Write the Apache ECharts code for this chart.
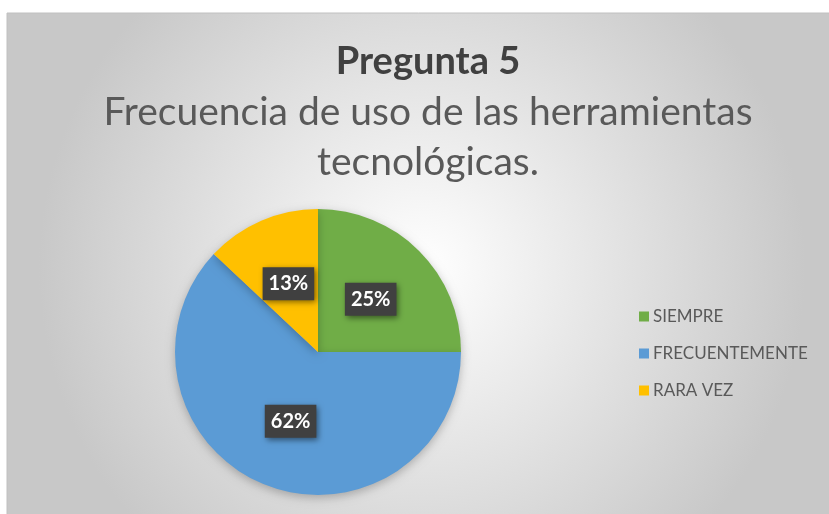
<!DOCTYPE html>
<html><head><meta charset="utf-8">
<script src="https://cdn.jsdelivr.net/npm/echarts@6/dist/echarts.min.js"></script>
<style>html,body{margin:0;padding:0;background:#fff}#c{width:829px;height:514px}</style>
</head><body><div id="c"></div>
<script>
const categories = ['SIEMPRE', 'FRECUENTEMENTE', 'RARA VEZ'];
const values = [25, 62, 13];
const colors = ['#70AD47', '#5B9BD5', '#FFC000'];
const titleText = 'Pregunta 5';
const subtitleText = 'Frecuencia de uso de las herramientas\ntecnológicas.';

const chart = echarts.init(document.getElementById('c'));
chart.setOption({
  animation: false,
  graphic: [{
    type: 'rect', z: -10, silent: true,
    shape: {x: 7, y: 13, width: 830, height: 510},
    style: {
      fill: {type: 'radial', x: 0.5, y: 0.5, r: 0.75, colorStops: [
        {offset: 0, color: '#ffffff'}, {offset: 1, color: '#c8c8c8'}]},
      stroke: '#c0c0c0', lineWidth: 1
    }
  }],
  title: {
    text: titleText, subtext: subtitleText, left: 423, textAlign: 'center', top: 38, itemGap: 6,
    textStyle: {fontFamily: 'Lato', fontWeight: 'bold', fontSize: 38, color: '#404040'},
    subtextStyle: {fontFamily: 'Lato', fontSize: 39, color: '#595959', lineHeight: 50}
  },
  legend: {
    orient: 'vertical', left: 634, top: 303, itemWidth: 10, itemHeight: 10, itemGap: 20,
    icon: 'rect', data: categories,
    textStyle: {fontFamily: 'Lato', fontSize: 17, color: '#595959', padding: [0, 0, 0, -1]}
  },
  series: [{
    type: 'pie', center: [318, 352], radius: 143, startAngle: 90, clockwise: true,
    data: categories.map((c, i) => ({name: c, value: values[i], itemStyle: {color: colors[i]}})),
    itemStyle: {shadowBlur: 10, shadowColor: 'rgba(0,0,0,0.25)', shadowOffsetY: 3},
    label: {
      position: 'inside', formatter: p => p.value + '%',
      color: '#fff', fontFamily: 'Lato', fontWeight: 'bold', fontSize: 20,
      backgroundColor: '#404040', padding: [7, 6, 6, 6],
      shadowBlur: 6, shadowColor: 'rgba(0,0,0,0.5)', shadowOffsetX: 2, shadowOffsetY: 2
    },
    labelLine: {show: false},
    emphasis: {disabled: true}
  }]
});
</script></body></html>
